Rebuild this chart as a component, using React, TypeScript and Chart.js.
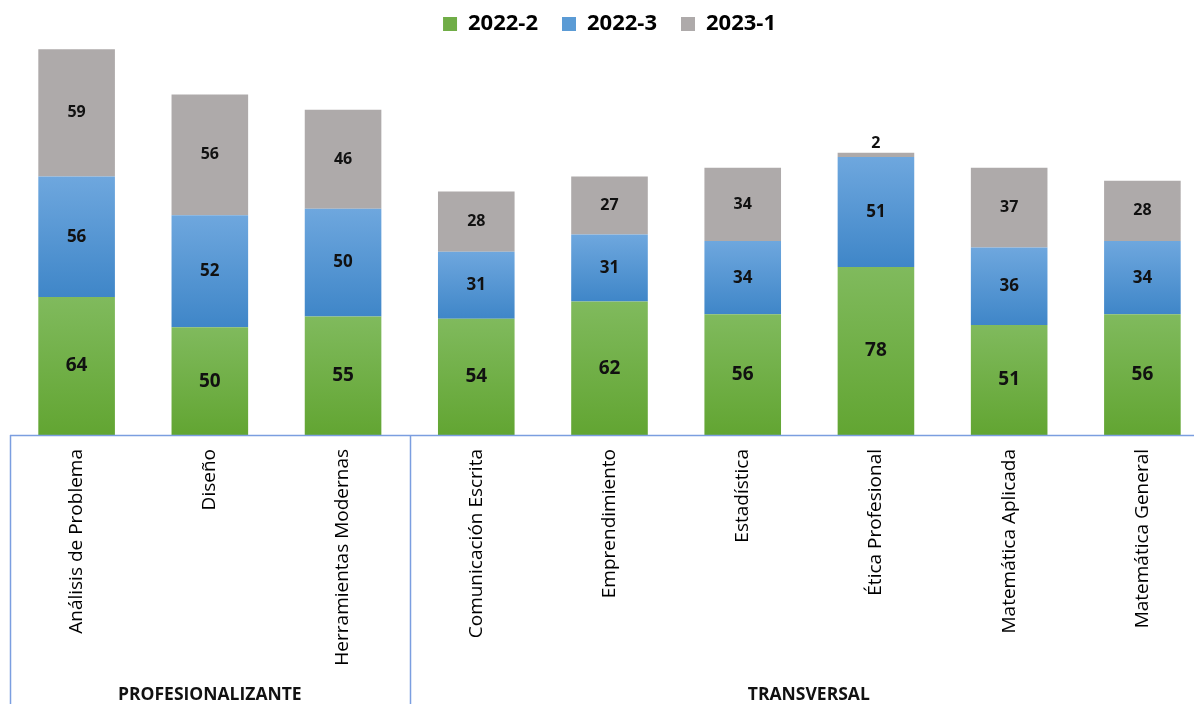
import React, { useEffect, useRef } from "react";
import { Chart, registerables } from "chart.js";

Chart.register(...registerables);

const categories = [
  "Análisis de Problema",
  "Diseño",
  "Herramientas Modernas",
  "Comunicación Escrita",
  "Emprendimiento",
  "Estadística",
  "Ética Profesional",
  "Matemática Aplicada",
  "Matemática General",
];
const groups = [
  { label: "PROFESIONALIZANTE", from: 0, to: 2 },
  { label: "TRANSVERSAL", from: 3, to: 8 },
];
const series2022_2 = [64, 50, 55, 54, 62, 56, 78, 51, 56];
const series2022_3 = [56, 52, 50, 31, 31, 34, 51, 36, 34];
const series2023_1 = [59, 56, 46, 28, 27, 34, 2, 37, 28];
const seriesNames = ["2022-2", "2022-3", "2023-1"];

const FONT = "'Open Sans', 'Liberation Sans', sans-serif";
const AXIS_COLOR = "#7b9ee0";

const gradStops: [string, string][] = [
  ["#80ba5d", "#62a532"],
  ["#6ea7de", "#3f86c8"],
  ["#aeaaaa", "#aeaaaa"],
];
const legendColors = ["#70ad47", "#5b9bd5", "#aeaaaa"];
const allSeries = [series2022_2, series2022_3, series2023_1];

function makeBg(dsIndex: number) {
  return (c: any) => {
    const chart = c.chart;
    const area = chart.chartArea;
    if (!area || c.type !== "data") return legendColors[dsIndex];
    const i = c.dataIndex;
    let start = 0;
    for (let k = 0; k < dsIndex; k++) start += allSeries[k][i];
    const end = start + allSeries[dsIndex][i];
    const y = chart.scales.y;
    const yTop = y.getPixelForValue(end);
    const yBot = y.getPixelForValue(start);
    if (!isFinite(yTop) || !isFinite(yBot) || yTop === yBot) return gradStops[dsIndex][0];
    const g = chart.ctx.createLinearGradient(0, yTop, 0, yBot);
    g.addColorStop(0, gradStops[dsIndex][0]);
    g.addColorStop(1, gradStops[dsIndex][1]);
    return g;
  };
}

const labelPlugin = {
  id: "segLabels",
  afterDatasetsDraw(chart: any) {
    const ctx = chart.ctx;
    ctx.save();
    ctx.fillStyle = "#111";
    ctx.textAlign = "center";
    ctx.textBaseline = "middle";
    const fonts = [`bold 19px ${FONT}`, `bold 17px ${FONT}`, `bold 16px ${FONT}`];
    chart.data.datasets.forEach((ds: any, di: number) => {
      const meta = chart.getDatasetMeta(di);
      meta.data.forEach((bar: any, i: number) => {
        const v = ds.data[i];
        ctx.font = fonts[di];
        const h = Math.abs(bar.base - bar.y);
        if (h < 18) {
          ctx.textBaseline = "bottom";
          ctx.fillText(String(v), bar.x, bar.y - 1);
          ctx.textBaseline = "middle";
        } else {
          ctx.fillText(String(v), bar.x, (bar.y + bar.base) / 2);
        }
      });
    });
    ctx.restore();
  },
};

const groupPlugin = {
  id: "groups",
  afterDraw(chart: any) {
    const ctx = chart.ctx;
    const x = chart.scales.x;
    const top = chart.chartArea.bottom;
    const bottom = chart.height;
    const bounds: number[] = [x.left];
    groups.forEach((g) => {
      const r =
        g.to < categories.length - 1
          ? (x.getPixelForValue(g.to) + x.getPixelForValue(g.to + 1)) / 2
          : x.right - 1;
      bounds.push(r);
    });
    ctx.save();
    ctx.strokeStyle = AXIS_COLOR;
    ctx.lineWidth = 1.5;
    bounds.forEach((b) => {
      ctx.beginPath();
      ctx.moveTo(Math.round(b) + 0.5, top);
      ctx.lineTo(Math.round(b) + 0.5, bottom);
      ctx.stroke();
    });
    ctx.beginPath();
    ctx.moveTo(x.left, top + 0.5);
    ctx.lineTo(x.right, top + 0.5);
    ctx.stroke();
    ctx.fillStyle = "#111";
    ctx.font = `bold 17.5px ${FONT}`;
    ctx.textAlign = "center";
    ctx.textBaseline = "middle";
    groups.forEach((g, gi) => {
      const cx = (bounds[gi] + bounds[gi + 1]) / 2;
      ctx.fillText(g.label, cx, 695);
    });
    ctx.restore();
  },
};

export default function App() {
  const ref = useRef<HTMLCanvasElement | null>(null);
  useEffect(() => {
    if (!ref.current) return;
    const chart = new Chart(ref.current, {
      type: "bar",
      data: {
        labels: categories,
        datasets: allSeries.map((s, di) => ({
          label: seriesNames[di],
          data: s,
          backgroundColor: makeBg(di) as any,
          borderWidth: 0,
          barPercentage: 0.575,
          categoryPercentage: 1,
          clip: false as any,
        })),
      },
      options: {
        responsive: false,
        animation: false,
        layout: { padding: { top: -11, left: 10, right: 1, bottom: 0 } },
        plugins: {
          legend: {
            position: "top",
            labels: {
              boxWidth: 14,
              boxHeight: 14,
              padding: 24,
              color: "#111",
              font: { family: FONT, size: 22, weight: "bold" },
              generateLabels: () =>
                seriesNames.map((n, i) => ({
                  text: n,
                  fillStyle: legendColors[i],
                  strokeStyle: legendColors[i],
                  lineWidth: 0,
                  datasetIndex: i,
                  hidden: false,
                })),
            },
          },
          tooltip: { enabled: false },
        },
        scales: {
          x: {
            stacked: true,
            grid: { display: false },
            border: { display: false },
            afterFit: (s: any) => {
              s.height = 269;
            },
            ticks: {
              minRotation: 90,
              maxRotation: 90,
              padding: 6,
              color: "#000",
              font: { family: FONT, size: 19 },
            },
          },
          y: {
            stacked: true,
            display: false,
            min: 0,
            max: 181,
          },
        },
      },
      plugins: [labelPlugin, groupPlugin],
    });
    return () => chart.destroy();
  }, []);
  return (
    <div style={{ position: "fixed", left: 0, top: 0, width: 1210, height: 704, overflow: "hidden", background: "#fff" }}>
      <canvas ref={ref} width={1210} height={704} />
    </div>
  );
}
